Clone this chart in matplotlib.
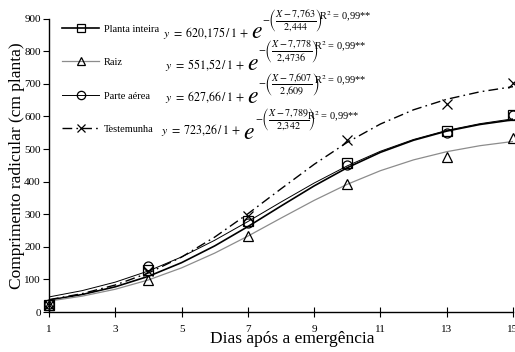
import numpy as np
import matplotlib
matplotlib.use("Agg")
import matplotlib.pyplot as plt

plt.rcParams["font.family"] = ["Liberation Serif", "DejaVu Serif"]
plt.rcParams["mathtext.fontset"] = "stix"

# observed values
DAYS = [1, 4, 7, 10, 13, 15]
PLANTA = [22, 130, 278, 458, 555, 605]
RAIZ = [20, 98, 232, 393, 475, 535]
PARTE = [25, 140, 274, 452, 548, 605]
TESTEMUNHA = [20, 125, 296, 527, 637, 703]

# logistic fits shown in the chart: a / (1 + exp(-(x - b) / c))
FIT_A = [620.175, 551.52, 627.66, 723.26]
FIT_B = [7.763, 7.778, 7.607, 7.789]
FIT_C = [2.444, 2.4736, 2.609, 2.342]
FIT_DAYS = list(range(1, 16))

LABELS = ["Planta inteira", "Raiz", "Parte aérea", "Testemunha"]
EQ_A = ["620,175", "551,52", "627,66", "723,26"]
EQ_B = ["7,763", "7,778", "7,607", "7,789"]
EQ_C = ["2,444", "2,4736", "2,609", "2,342"]

XTICKS = [1, 3, 5, 7, 9, 11, 13, 15]
YTICKS = [0, 100, 200, 300, 400, 500, 600, 700, 800, 900]

W, H = 515, 352
fig = plt.figure(figsize=(W / 100, H / 100), dpi=100)
ax = fig.add_axes([49 / W, 1 - 312 / H, (513 - 49) / W, (312 - 18.7) / H])

styles = [
    dict(color="black", lw=1.2, ls="-", marker="s"),
    dict(color="#8c8c8c", lw=0.9, ls="-", marker="^"),
    dict(color="black", lw=0.7, ls="-", marker="o"),
    dict(color="black", lw=1.0, ls=(0, (7, 3, 1.2, 3)), marker="x"),
]
series = [PLANTA, RAIZ, PARTE, TESTEMUNHA]

xf = np.array(FIT_DAYS, dtype=float)
for i, (vals, st) in enumerate(zip(series, styles)):
    yf = FIT_A[i] / (1 + np.exp(-(xf - FIT_B[i]) / FIT_C[i]))
    ax.plot(xf, yf, color=st["color"], lw=st["lw"], ls=st["ls"], zorder=2)
    ax.plot(DAYS, vals, ls="none", marker=st["marker"], ms=6.5,
            mfc="none", mec="black", mew=0.9, zorder=3, clip_on=False)
    # legend proxy
    ax.plot([], [], color=st["color"], lw=st["lw"], ls=st["ls"],
            marker=st["marker"], ms=6, mfc="none", mec="black", mew=0.9,
            label=LABELS[i])

ax.set_xlim(1, 15)
ax.set_ylim(0, 900)
ax.set_xticks(XTICKS)
ax.set_yticks(YTICKS)
for s in ["top", "right"]:
    ax.spines[s].set_visible(False)
for s in ["left", "bottom"]:
    ax.spines[s].set_linewidth(1.0)
ax.tick_params(axis="x", direction="inout", length=7, labelsize=8, pad=6)
ax.tick_params(axis="y", direction="out", length=4, labelsize=8, pad=2)

ax.set_xlabel("Dias após a emergência", fontsize=12.5)
ax.xaxis.set_label_coords(0.524, -0.066)
ax.set_ylabel("Comprimento radicular (cm planta)", fontsize=12.5)
ax.yaxis.set_label_coords(-0.052, 0.5)

leg = ax.legend(loc="upper left", bbox_to_anchor=(0.02, 0.995), frameon=False,
                fontsize=7.5, handlelength=3.55, handletextpad=0.45,
                labelspacing=2.32, borderaxespad=0)


def px(x, y):
    return x / W, 1 - y / H


# equation pieces: main text, big e, exponent, R2 (pixel positions)
main_y = [33, 65, 97, 130]
e_x = [251, 247, 247, 243]
e_y = [33, 65, 98, 133]
exp_x = [262, 258, 258, 255]
exp_y = [21, 52, 85, 120]
r2_x = [319, 314, 314, 307]
r2_y = [17, 47, 81, 117]

for i in range(4):
    main = r"$y\ =\ " + EQ_A[i].replace(",", "{,}") + r"\,/\,1\,+$"
    fig.text(*px(e_x[i] - 2, main_y[i]), main, fontsize=8.6, va="center",
             ha="right")
    fig.text(*px(e_x[i], e_y[i]), r"$e$", fontsize=17, va="center", ha="left")
    ex = (r"$-\left(\dfrac{X-" + EQ_B[i].replace(",", "{,}") + "}{"
          + EQ_C[i].replace(",", "{,}") + r"}\right)$")
    fig.text(*px(exp_x[i], exp_y[i]), ex, fontsize=7.3, va="center", ha="left")
    fig.text(*px(r2_x[i], r2_y[i]), r"R$^2$ = 0,99**", fontsize=7.5,
             va="center", ha="left")

fig.savefig("out.png", dpi=100)
